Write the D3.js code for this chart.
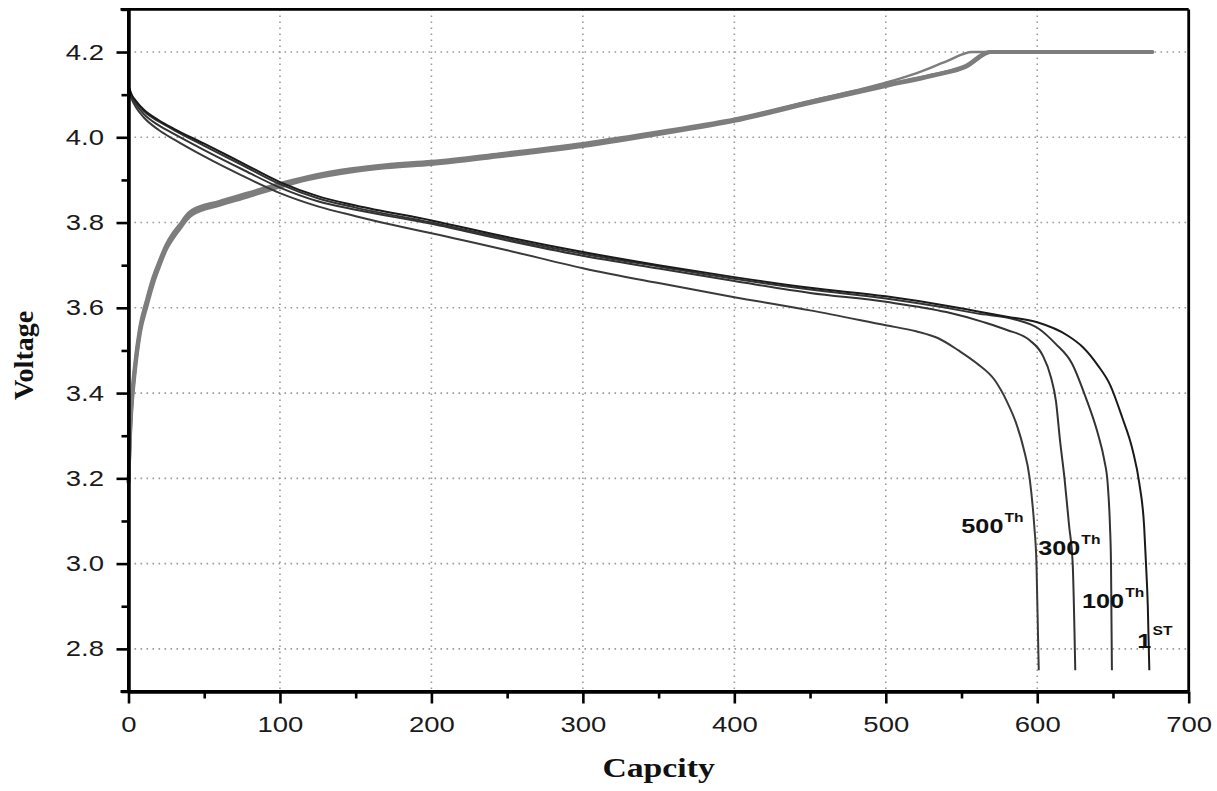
<!DOCTYPE html>
<html>
<head>
<meta charset="utf-8">
<script src="https://cdn.jsdelivr.net/npm/d3@7"></script>
<style>
  html, body { margin: 0; padding: 0; background: #fff; }
  svg { display: block; }
</style>
</head>
<body>
<svg id="chart" width="1217" height="791"></svg>
<script>
// ---- Discharge curves (capacity, voltage) for cycles 1, 100, 300, 500 ----
const dis1Cap = [0, 2, 5, 10, 20, 30, 50, 75, 100, 125, 150, 200, 250, 300, 350, 400, 450, 500, 540, 560, 580, 600, 620, 630, 640, 648, 656, 663, 667.4, 670.6, 671.8, 673, 674];
const dis1V   = [4.12, 4.10, 4.085, 4.065, 4.04, 4.02, 3.985, 3.94, 3.895, 3.862, 3.840, 3.805, 3.766, 3.731, 3.700, 3.672, 3.647, 3.627, 3.605, 3.592, 3.579, 3.566, 3.535, 3.508, 3.465, 3.42, 3.344, 3.266, 3.188, 3.086, 3.0, 2.9, 2.75];

const dis100Cap = [0, 2, 5, 10, 20, 30, 50, 75, 100, 125, 150, 200, 250, 300, 350, 400, 450, 500, 540, 560, 586, 601, 612, 623, 632, 640, 644.3, 646.5, 648, 648.7, 649.3];
const dis100V   = [4.12, 4.10, 4.083, 4.062, 4.037, 4.017, 3.980, 3.935, 3.890, 3.857, 3.835, 3.800, 3.762, 3.727, 3.697, 3.668, 3.643, 3.622, 3.600, 3.587, 3.572, 3.551, 3.516, 3.469, 3.39, 3.305, 3.242, 3.188, 3.09, 3.0, 2.75];

const dis300Cap = [0, 2, 5, 10, 20, 30, 50, 75, 100, 125, 150, 200, 250, 300, 350, 400, 450, 500, 540, 564, 580, 595, 603.5, 609, 612.4, 615, 618, 621, 623.4, 625.1];
const dis300V   = [4.115, 4.095, 4.077, 4.055, 4.028, 4.008, 3.970, 3.925, 3.882, 3.850, 3.830, 3.797, 3.758, 3.722, 3.692, 3.663, 3.635, 3.614, 3.590, 3.567, 3.548, 3.524, 3.489, 3.438, 3.38, 3.29, 3.2, 3.09, 3.0, 2.75];

const dis500Cap = [0, 2, 5, 10, 20, 30, 50, 75, 100, 125, 150, 180, 200, 250, 300, 350, 400, 450, 500, 520, 535, 548, 560, 572, 580, 586, 591, 595, 598, 599.5, 601];
const dis500V   = [4.11, 4.09, 4.07, 4.047, 4.017, 3.995, 3.955, 3.910, 3.869, 3.838, 3.815, 3.790, 3.775, 3.735, 3.693, 3.658, 3.625, 3.594, 3.559, 3.545, 3.528, 3.50, 3.47, 3.43, 3.38, 3.33, 3.27, 3.2, 3.09, 3.0, 2.75];

// ---- Charge curves (capacity, voltage) ----
const chg1Cap = [0, 1, 2, 4, 7.6, 12, 16.4, 20, 25, 30, 34, 38, 42, 60, 78, 100, 118, 148, 170, 200, 245, 300, 355, 400, 450, 500, 531, 553, 568, 676];
const chg1V   = [3.19, 3.30, 3.37, 3.45, 3.547, 3.61, 3.665, 3.70, 3.743, 3.772, 3.790, 3.810, 3.823, 3.845, 3.864, 3.888, 3.904, 3.923, 3.932, 3.940, 3.958, 3.982, 4.013, 4.040, 4.082, 4.122, 4.146, 4.168, 4.200, 4.200];

const chg100Cap = [0, 1, 2, 4, 7.6, 12, 16.4, 20, 25, 30, 34, 38, 42, 60, 78, 100, 118, 148, 170, 200, 245, 300, 355, 400, 450, 500, 531, 553, 570, 676];
const chg100V   = [3.19, 3.31, 3.38, 3.46, 3.555, 3.618, 3.672, 3.706, 3.748, 3.777, 3.795, 3.815, 3.828, 3.849, 3.868, 3.891, 3.907, 3.926, 3.935, 3.943, 3.961, 3.985, 4.015, 4.042, 4.084, 4.123, 4.146, 4.166, 4.200, 4.200];

const chg300Cap = [0, 1, 2, 4, 7.6, 12, 16.4, 20, 25, 30, 34, 38, 42, 60, 78, 100, 118, 148, 170, 200, 245, 300, 355, 400, 450, 500, 531, 553, 569, 676];
const chg300V   = [3.19, 3.29, 3.36, 3.44, 3.54, 3.603, 3.658, 3.694, 3.738, 3.767, 3.786, 3.806, 3.819, 3.841, 3.860, 3.884, 3.901, 3.920, 3.929, 3.937, 3.955, 3.979, 4.010, 4.038, 4.080, 4.120, 4.144, 4.165, 4.200, 4.200];

const chg500Cap = [0, 1, 2, 4, 7.6, 12, 16.4, 20, 25, 30, 34, 38, 42, 60, 78, 100, 118, 148, 170, 200, 245, 300, 355, 400, 450, 500, 520, 540, 557, 676];
const chg500V   = [3.19, 3.30, 3.37, 3.45, 3.55, 3.612, 3.667, 3.702, 3.745, 3.774, 3.792, 3.812, 3.826, 3.847, 3.866, 3.890, 3.906, 3.925, 3.934, 3.942, 3.960, 3.984, 4.014, 4.042, 4.085, 4.128, 4.150, 4.178, 4.200, 4.200];

// ---- Axis ticks ----
const xMajorTicks = [0, 100, 200, 300, 400, 500, 600, 700];
const xMinorTicks = [50, 150, 250, 350, 450, 550, 650];
const yMajorTicks = [2.8, 3.0, 3.2, 3.4, 3.6, 3.8, 4.0, 4.2];
const yMinorTicks = [2.7, 2.9, 3.1, 3.3, 3.5, 3.7, 3.9, 4.1, 4.3];
const xGrid = [100, 200, 300, 400, 500, 600];

// ---- Cycle labels ----
const cycleNames = ["500", "300", "100", "1"];
const cycleSuffix = ["Th", "Th", "Th", "ST"];

const zip = (c, v) => c.map((d, i) => [d, v[i]]);

const svg = d3.select("#chart");
const plot = { left: 128.5, right: 1188.7, top: 9.4, bottom: 691.5 };

const x = d3.scaleLinear().domain([0, 700]).range([plot.left, plot.right]);
const y = d3.scaleLinear().domain([2.7, 4.3]).range([plot.bottom, plot.top]);

const STRETCH = 1.25;

// dotted grid
const grid = svg.append("g").attr("stroke", "#9a9a9a").attr("stroke-width", 1.6)
  .attr("stroke-dasharray", "1.6,4.4");
grid.selectAll("line.h").data(yMajorTicks).join("line").attr("class", "h")
  .attr("x1", plot.left).attr("x2", plot.right)
  .attr("y1", d => y(d)).attr("y2", d => y(d));
grid.selectAll("line.v").data(xGrid).join("line").attr("class", "v")
  .attr("y1", plot.top).attr("y2", plot.bottom)
  .attr("x1", d => x(d)).attr("x2", d => x(d));

// curves
const line = d3.line().x(d => x(d[0])).y(d => y(d[1])).curve(d3.curveMonotoneX);

const charge = [
  { pts: zip(chg500Cap, chg500V), w: 2.4 },
  { pts: zip(chg300Cap, chg300V), w: 3.6 },
  { pts: zip(chg100Cap, chg100V), w: 3.6 },
  { pts: zip(chg1Cap, chg1V), w: 3.6 }
];
svg.append("g").selectAll("path").data(charge).join("path")
  .attr("d", d => line(d.pts))
  .attr("fill", "none")
  .attr("stroke", "#7d7d7d")
  .attr("stroke-width", d => d.w)
  .attr("stroke-linecap", "round")
  .attr("stroke-linejoin", "round");

const discharge = [
  { pts: zip(dis500Cap, dis500V), c: "#3a3a3a" },
  { pts: zip(dis300Cap, dis300V), c: "#333" },
  { pts: zip(dis100Cap, dis100V), c: "#333" },
  { pts: zip(dis1Cap, dis1V), c: "#1a1a1a" }
];
svg.append("g").selectAll("path").data(discharge).join("path")
  .attr("d", d => line(d.pts))
  .attr("fill", "none")
  .attr("stroke", d => d.c)
  .attr("stroke-width", 2)
  .attr("stroke-linejoin", "round");

// frame (top and right)
svg.append("line").attr("x1", x(0) - 8).attr("x2", plot.right)
  .attr("y1", plot.top).attr("y2", plot.top)
  .attr("stroke", "#000").attr("stroke-width", 2.6);
svg.append("line").attr("x1", plot.right).attr("x2", plot.right)
  .attr("y1", plot.top).attr("y2", plot.bottom)
  .attr("stroke", "#000").attr("stroke-width", 2.8);

// axes: major ticks with labels, minor ticks in their own groups
const tickFont = "'Liberation Sans', Arial, sans-serif";

svg.append("g").attr("transform", `translate(${plot.left},0)`)
  .call(d3.axisLeft(y).tickValues(yMinorTicks).tickSize(7).tickSizeOuter(0).tickFormat(""));
svg.append("g").attr("transform", `translate(${plot.left},0)`)
  .call(d3.axisLeft(y).tickValues(yMajorTicks).tickSize(12).tickSizeOuter(0)
    .tickPadding(7.6).tickFormat(d3.format(".1f")));

svg.append("g").attr("transform", `translate(0,${plot.bottom})`)
  .call(d3.axisBottom(x).tickValues(xMinorTicks).tickSize(7).tickSizeOuter(0).tickFormat(""));
svg.append("g").attr("transform", `translate(0,${plot.bottom})`)
  .call(d3.axisBottom(x).tickValues(xMajorTicks).tickSize(12).tickSizeOuter(0)
    .tickPadding(13).tickFormat(d3.format("d")));

svg.selectAll(".domain").attr("stroke", "#000").attr("stroke-width", 3);
svg.selectAll(".tick line").attr("stroke", "#000").attr("stroke-width", 2.6);
svg.selectAll(".tick text")
  .attr("font-family", tickFont)
  .attr("font-size", 22)
  .attr("fill", "#1a1a1a")
  .attr("transform", `scale(${STRETCH},1)`);

// axis lines reaching the corner ticks
svg.append("line").attr("x1", plot.left).attr("x2", plot.left)
  .attr("y1", plot.top).attr("y2", plot.bottom)
  .attr("stroke", "#000").attr("stroke-width", 3);
svg.append("line").attr("x1", plot.left - 8).attr("x2", plot.right)
  .attr("y1", plot.bottom).attr("y2", plot.bottom)
  .attr("stroke", "#000").attr("stroke-width", 3);

// axis titles
svg.append("text")
  .attr("transform", `translate(${(plot.left + plot.right) / 2},777) scale(${STRETCH},1)`)
  .attr("text-anchor", "middle")
  .attr("font-family", "'Liberation Serif', 'Times New Roman', serif")
  .attr("font-weight", "bold")
  .attr("font-size", 27)
  .attr("fill", "#111")
  .text("Capcity");

svg.append("text")
  .attr("transform", `translate(33,${(plot.top + plot.bottom) / 2 + 5}) rotate(-90)`)
  .attr("text-anchor", "middle")
  .attr("font-family", "'Liberation Serif', 'Times New Roman', serif")
  .attr("font-weight", "bold")
  .attr("font-size", 28)
  .attr("fill", "#111")
  .text("Voltage");

// cycle labels placed next to the end of each discharge curve
const labelPos = [[549.9, 3.071], [600.6, 3.021], [629.6, 2.895], [666.1, 2.803]];
const lab = svg.append("g");
cycleNames.forEach((name, i) => {
  const t = lab.append("text")
    .attr("transform", `translate(${x(labelPos[i][0])},${y(labelPos[i][1])}) scale(1.2,1)`)
    .attr("font-family", tickFont)
    .attr("font-weight", "bold")
    .attr("font-size", 21)
    .attr("fill", "#111");
  t.append("tspan").text(name);
  t.append("tspan").attr("font-size", 13).attr("dy", cycleSuffix[i] === "ST" ? -13 : -11)
    .attr("dx", 1).text(cycleSuffix[i]);
});
</script>
</body>
</html>
